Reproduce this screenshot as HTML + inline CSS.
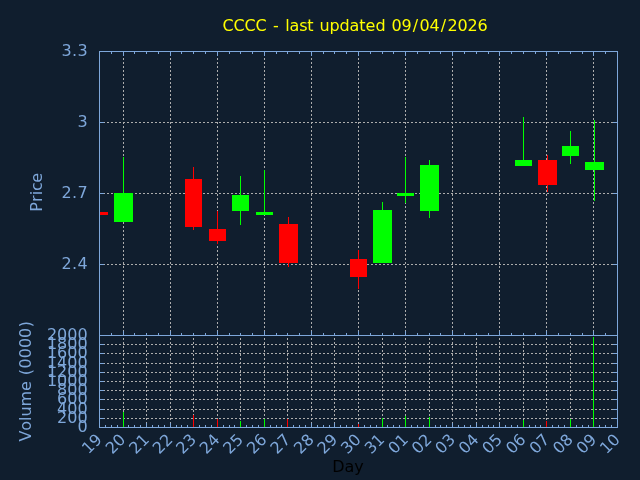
<!DOCTYPE html>
<html><head><meta charset="utf-8"><title>CCCC</title>
<style>html,body{margin:0;padding:0;background:#101e2e;overflow:hidden}svg{display:block;will-change:transform}text{font-family:"DejaVu Sans","Liberation Sans",sans-serif;font-size:16px}</style>
</head><body>
<svg width="640" height="480" viewBox="0 0 640 480">
<rect x="0" y="0" width="640" height="480" fill="#101e2e"/>
<g stroke="#adadad" stroke-width="1" stroke-dasharray="2 2" fill="none" shape-rendering="crispEdges">
<line x1="123.5" y1="52" x2="123.5" y2="335" stroke-dashoffset="2"/>
<line x1="170.5" y1="52" x2="170.5" y2="335" stroke-dashoffset="2"/>
<line x1="217.5" y1="52" x2="217.5" y2="335" stroke-dashoffset="2"/>
<line x1="264.5" y1="52" x2="264.5" y2="335" stroke-dashoffset="2"/>
<line x1="311.5" y1="52" x2="311.5" y2="335" stroke-dashoffset="2"/>
<line x1="358.5" y1="52" x2="358.5" y2="335" stroke-dashoffset="2"/>
<line x1="405.5" y1="52" x2="405.5" y2="335" stroke-dashoffset="2"/>
<line x1="452.5" y1="52" x2="452.5" y2="335" stroke-dashoffset="2"/>
<line x1="499.5" y1="52" x2="499.5" y2="335" stroke-dashoffset="2"/>
<line x1="546.5" y1="52" x2="546.5" y2="335" stroke-dashoffset="2"/>
<line x1="593.5" y1="52" x2="593.5" y2="335" stroke-dashoffset="2"/>
<line x1="99" y1="122.5" x2="617" y2="122.5"/>
<line x1="99" y1="193.5" x2="617" y2="193.5"/>
<line x1="99" y1="264.5" x2="617" y2="264.5"/>
<line x1="123.5" y1="336" x2="123.5" y2="427" stroke-dashoffset="2"/>
<line x1="146.5" y1="336" x2="146.5" y2="427" stroke-dashoffset="2"/>
<line x1="170.5" y1="336" x2="170.5" y2="427" stroke-dashoffset="2"/>
<line x1="193.5" y1="336" x2="193.5" y2="427" stroke-dashoffset="2"/>
<line x1="217.5" y1="336" x2="217.5" y2="427" stroke-dashoffset="2"/>
<line x1="240.5" y1="336" x2="240.5" y2="427" stroke-dashoffset="2"/>
<line x1="264.5" y1="336" x2="264.5" y2="427" stroke-dashoffset="2"/>
<line x1="287.5" y1="336" x2="287.5" y2="427" stroke-dashoffset="2"/>
<line x1="311.5" y1="336" x2="311.5" y2="427" stroke-dashoffset="2"/>
<line x1="334.5" y1="336" x2="334.5" y2="427" stroke-dashoffset="2"/>
<line x1="358.5" y1="336" x2="358.5" y2="427" stroke-dashoffset="2"/>
<line x1="382.5" y1="336" x2="382.5" y2="427" stroke-dashoffset="2"/>
<line x1="405.5" y1="336" x2="405.5" y2="427" stroke-dashoffset="2"/>
<line x1="429.5" y1="336" x2="429.5" y2="427" stroke-dashoffset="2"/>
<line x1="452.5" y1="336" x2="452.5" y2="427" stroke-dashoffset="2"/>
<line x1="476.5" y1="336" x2="476.5" y2="427" stroke-dashoffset="2"/>
<line x1="499.5" y1="336" x2="499.5" y2="427" stroke-dashoffset="2"/>
<line x1="523.5" y1="336" x2="523.5" y2="427" stroke-dashoffset="2"/>
<line x1="546.5" y1="336" x2="546.5" y2="427" stroke-dashoffset="2"/>
<line x1="570.5" y1="336" x2="570.5" y2="427" stroke-dashoffset="2"/>
<line x1="593.5" y1="336" x2="593.5" y2="427" stroke-dashoffset="2"/>
<line x1="99" y1="418.5" x2="617" y2="418.5"/>
<line x1="99" y1="409.5" x2="617" y2="409.5"/>
<line x1="99" y1="399.5" x2="617" y2="399.5"/>
<line x1="99" y1="390.5" x2="617" y2="390.5"/>
<line x1="99" y1="381.5" x2="617" y2="381.5"/>
<line x1="99" y1="372.5" x2="617" y2="372.5"/>
<line x1="99" y1="363.5" x2="617" y2="363.5"/>
<line x1="99" y1="353.5" x2="617" y2="353.5"/>
<line x1="99" y1="344.5" x2="617" y2="344.5"/>
</g>
<g fill="#7ea7da" shape-rendering="crispEdges">
<rect x="99" y="51" width="519" height="1"/>
<rect x="99" y="335" width="519" height="1"/>
<rect x="99" y="427" width="519" height="1"/>
<rect x="99" y="51" width="1" height="377"/>
<rect x="617" y="51" width="1" height="377"/>
<rect x="111" y="52" width="1" height="2"/>
<rect x="111" y="333" width="1" height="2"/>
<rect x="123" y="52" width="1" height="4"/>
<rect x="123" y="331" width="1" height="4"/>
<rect x="134" y="52" width="1" height="2"/>
<rect x="134" y="333" width="1" height="2"/>
<rect x="146" y="52" width="1" height="2"/>
<rect x="146" y="333" width="1" height="2"/>
<rect x="158" y="52" width="1" height="2"/>
<rect x="158" y="333" width="1" height="2"/>
<rect x="170" y="52" width="1" height="4"/>
<rect x="170" y="331" width="1" height="4"/>
<rect x="181" y="52" width="1" height="2"/>
<rect x="181" y="333" width="1" height="2"/>
<rect x="193" y="52" width="1" height="2"/>
<rect x="193" y="333" width="1" height="2"/>
<rect x="205" y="52" width="1" height="2"/>
<rect x="205" y="333" width="1" height="2"/>
<rect x="217" y="52" width="1" height="4"/>
<rect x="217" y="331" width="1" height="4"/>
<rect x="229" y="52" width="1" height="2"/>
<rect x="229" y="333" width="1" height="2"/>
<rect x="240" y="52" width="1" height="2"/>
<rect x="240" y="333" width="1" height="2"/>
<rect x="252" y="52" width="1" height="2"/>
<rect x="252" y="333" width="1" height="2"/>
<rect x="264" y="52" width="1" height="4"/>
<rect x="264" y="331" width="1" height="4"/>
<rect x="276" y="52" width="1" height="2"/>
<rect x="276" y="333" width="1" height="2"/>
<rect x="287" y="52" width="1" height="2"/>
<rect x="287" y="333" width="1" height="2"/>
<rect x="299" y="52" width="1" height="2"/>
<rect x="299" y="333" width="1" height="2"/>
<rect x="311" y="52" width="1" height="4"/>
<rect x="311" y="331" width="1" height="4"/>
<rect x="323" y="52" width="1" height="2"/>
<rect x="323" y="333" width="1" height="2"/>
<rect x="334" y="52" width="1" height="2"/>
<rect x="334" y="333" width="1" height="2"/>
<rect x="346" y="52" width="1" height="2"/>
<rect x="346" y="333" width="1" height="2"/>
<rect x="358" y="52" width="1" height="4"/>
<rect x="358" y="331" width="1" height="4"/>
<rect x="370" y="52" width="1" height="2"/>
<rect x="370" y="333" width="1" height="2"/>
<rect x="382" y="52" width="1" height="2"/>
<rect x="382" y="333" width="1" height="2"/>
<rect x="393" y="52" width="1" height="2"/>
<rect x="393" y="333" width="1" height="2"/>
<rect x="405" y="52" width="1" height="4"/>
<rect x="405" y="331" width="1" height="4"/>
<rect x="417" y="52" width="1" height="2"/>
<rect x="417" y="333" width="1" height="2"/>
<rect x="429" y="52" width="1" height="2"/>
<rect x="429" y="333" width="1" height="2"/>
<rect x="440" y="52" width="1" height="2"/>
<rect x="440" y="333" width="1" height="2"/>
<rect x="452" y="52" width="1" height="4"/>
<rect x="452" y="331" width="1" height="4"/>
<rect x="464" y="52" width="1" height="2"/>
<rect x="464" y="333" width="1" height="2"/>
<rect x="476" y="52" width="1" height="2"/>
<rect x="476" y="333" width="1" height="2"/>
<rect x="488" y="52" width="1" height="2"/>
<rect x="488" y="333" width="1" height="2"/>
<rect x="499" y="52" width="1" height="4"/>
<rect x="499" y="331" width="1" height="4"/>
<rect x="511" y="52" width="1" height="2"/>
<rect x="511" y="333" width="1" height="2"/>
<rect x="523" y="52" width="1" height="2"/>
<rect x="523" y="333" width="1" height="2"/>
<rect x="535" y="52" width="1" height="2"/>
<rect x="535" y="333" width="1" height="2"/>
<rect x="546" y="52" width="1" height="4"/>
<rect x="546" y="331" width="1" height="4"/>
<rect x="558" y="52" width="1" height="2"/>
<rect x="558" y="333" width="1" height="2"/>
<rect x="570" y="52" width="1" height="2"/>
<rect x="570" y="333" width="1" height="2"/>
<rect x="582" y="52" width="1" height="2"/>
<rect x="582" y="333" width="1" height="2"/>
<rect x="593" y="52" width="1" height="4"/>
<rect x="593" y="331" width="1" height="4"/>
<rect x="605" y="52" width="1" height="2"/>
<rect x="605" y="333" width="1" height="2"/>
<rect x="105" y="425" width="1" height="2"/>
<rect x="111" y="425" width="1" height="2"/>
<rect x="117" y="425" width="1" height="2"/>
<rect x="123" y="423" width="1" height="4"/>
<rect x="128" y="425" width="1" height="2"/>
<rect x="134" y="425" width="1" height="2"/>
<rect x="140" y="425" width="1" height="2"/>
<rect x="146" y="423" width="1" height="4"/>
<rect x="152" y="425" width="1" height="2"/>
<rect x="158" y="425" width="1" height="2"/>
<rect x="164" y="425" width="1" height="2"/>
<rect x="170" y="423" width="1" height="4"/>
<rect x="176" y="425" width="1" height="2"/>
<rect x="181" y="425" width="1" height="2"/>
<rect x="187" y="425" width="1" height="2"/>
<rect x="193" y="423" width="1" height="4"/>
<rect x="199" y="425" width="1" height="2"/>
<rect x="205" y="425" width="1" height="2"/>
<rect x="211" y="425" width="1" height="2"/>
<rect x="217" y="423" width="1" height="4"/>
<rect x="223" y="425" width="1" height="2"/>
<rect x="229" y="425" width="1" height="2"/>
<rect x="234" y="425" width="1" height="2"/>
<rect x="240" y="423" width="1" height="4"/>
<rect x="246" y="425" width="1" height="2"/>
<rect x="252" y="425" width="1" height="2"/>
<rect x="258" y="425" width="1" height="2"/>
<rect x="264" y="423" width="1" height="4"/>
<rect x="270" y="425" width="1" height="2"/>
<rect x="276" y="425" width="1" height="2"/>
<rect x="281" y="425" width="1" height="2"/>
<rect x="287" y="423" width="1" height="4"/>
<rect x="293" y="425" width="1" height="2"/>
<rect x="299" y="425" width="1" height="2"/>
<rect x="305" y="425" width="1" height="2"/>
<rect x="311" y="423" width="1" height="4"/>
<rect x="317" y="425" width="1" height="2"/>
<rect x="323" y="425" width="1" height="2"/>
<rect x="329" y="425" width="1" height="2"/>
<rect x="334" y="423" width="1" height="4"/>
<rect x="340" y="425" width="1" height="2"/>
<rect x="346" y="425" width="1" height="2"/>
<rect x="352" y="425" width="1" height="2"/>
<rect x="358" y="423" width="1" height="4"/>
<rect x="364" y="425" width="1" height="2"/>
<rect x="370" y="425" width="1" height="2"/>
<rect x="376" y="425" width="1" height="2"/>
<rect x="382" y="423" width="1" height="4"/>
<rect x="387" y="425" width="1" height="2"/>
<rect x="393" y="425" width="1" height="2"/>
<rect x="399" y="425" width="1" height="2"/>
<rect x="405" y="423" width="1" height="4"/>
<rect x="411" y="425" width="1" height="2"/>
<rect x="417" y="425" width="1" height="2"/>
<rect x="423" y="425" width="1" height="2"/>
<rect x="429" y="423" width="1" height="4"/>
<rect x="435" y="425" width="1" height="2"/>
<rect x="440" y="425" width="1" height="2"/>
<rect x="446" y="425" width="1" height="2"/>
<rect x="452" y="423" width="1" height="4"/>
<rect x="458" y="425" width="1" height="2"/>
<rect x="464" y="425" width="1" height="2"/>
<rect x="470" y="425" width="1" height="2"/>
<rect x="476" y="423" width="1" height="4"/>
<rect x="482" y="425" width="1" height="2"/>
<rect x="488" y="425" width="1" height="2"/>
<rect x="493" y="425" width="1" height="2"/>
<rect x="499" y="423" width="1" height="4"/>
<rect x="505" y="425" width="1" height="2"/>
<rect x="511" y="425" width="1" height="2"/>
<rect x="517" y="425" width="1" height="2"/>
<rect x="523" y="423" width="1" height="4"/>
<rect x="529" y="425" width="1" height="2"/>
<rect x="535" y="425" width="1" height="2"/>
<rect x="540" y="425" width="1" height="2"/>
<rect x="546" y="423" width="1" height="4"/>
<rect x="552" y="425" width="1" height="2"/>
<rect x="558" y="425" width="1" height="2"/>
<rect x="564" y="425" width="1" height="2"/>
<rect x="570" y="423" width="1" height="4"/>
<rect x="576" y="425" width="1" height="2"/>
<rect x="582" y="425" width="1" height="2"/>
<rect x="588" y="425" width="1" height="2"/>
<rect x="593" y="423" width="1" height="4"/>
<rect x="599" y="425" width="1" height="2"/>
<rect x="605" y="425" width="1" height="2"/>
<rect x="611" y="425" width="1" height="2"/>
<rect x="100" y="122" width="4" height="1"/>
<rect x="613" y="122" width="4" height="1"/>
<rect x="100" y="193" width="4" height="1"/>
<rect x="613" y="193" width="4" height="1"/>
<rect x="100" y="264" width="4" height="1"/>
<rect x="613" y="264" width="4" height="1"/>
<rect x="100" y="418" width="4" height="1"/>
<rect x="613" y="418" width="4" height="1"/>
<rect x="100" y="409" width="4" height="1"/>
<rect x="613" y="409" width="4" height="1"/>
<rect x="100" y="399" width="4" height="1"/>
<rect x="613" y="399" width="4" height="1"/>
<rect x="100" y="390" width="4" height="1"/>
<rect x="613" y="390" width="4" height="1"/>
<rect x="100" y="381" width="4" height="1"/>
<rect x="613" y="381" width="4" height="1"/>
<rect x="100" y="372" width="4" height="1"/>
<rect x="613" y="372" width="4" height="1"/>
<rect x="100" y="363" width="4" height="1"/>
<rect x="613" y="363" width="4" height="1"/>
<rect x="100" y="353" width="4" height="1"/>
<rect x="613" y="353" width="4" height="1"/>
<rect x="100" y="344" width="4" height="1"/>
<rect x="613" y="344" width="4" height="1"/>
</g>
<g shape-rendering="crispEdges">
<rect x="100" y="212" width="8" height="3" fill="#ff0000"/>
<rect x="123" y="157" width="1" height="65" fill="#00ff00"/>
<rect x="114" y="193" width="19" height="29" fill="#00ff00"/>
<rect x="193" y="167" width="1" height="63" fill="#ff0000"/>
<rect x="185" y="179" width="17" height="48" fill="#ff0000"/>
<rect x="217" y="211" width="1" height="33" fill="#ff0000"/>
<rect x="209" y="229" width="17" height="12" fill="#ff0000"/>
<rect x="240" y="176" width="1" height="49" fill="#00ff00"/>
<rect x="232" y="195" width="17" height="16" fill="#00ff00"/>
<rect x="264" y="170" width="1" height="45" fill="#00ff00"/>
<rect x="256" y="212" width="17" height="3" fill="#00ff00"/>
<rect x="288" y="217" width="1" height="50" fill="#ff0000"/>
<rect x="279" y="224" width="19" height="39" fill="#ff0000"/>
<rect x="358" y="250" width="1" height="39" fill="#ff0000"/>
<rect x="350" y="259" width="17" height="18" fill="#ff0000"/>
<rect x="382" y="202" width="1" height="61" fill="#00ff00"/>
<rect x="373" y="210" width="19" height="53" fill="#00ff00"/>
<rect x="405" y="157" width="1" height="46" fill="#00ff00"/>
<rect x="397" y="193" width="17" height="3" fill="#00ff00"/>
<rect x="429" y="160" width="1" height="58" fill="#00ff00"/>
<rect x="420" y="165" width="19" height="46" fill="#00ff00"/>
<rect x="523" y="117" width="1" height="49" fill="#00ff00"/>
<rect x="515" y="160" width="17" height="6" fill="#00ff00"/>
<rect x="547" y="155" width="1" height="37" fill="#ff0000"/>
<rect x="538" y="160" width="19" height="25" fill="#ff0000"/>
<rect x="570" y="131" width="1" height="33" fill="#00ff00"/>
<rect x="562" y="146" width="17" height="10" fill="#00ff00"/>
<rect x="594" y="120" width="1" height="81" fill="#00ff00"/>
<rect x="585" y="162" width="19" height="8" fill="#00ff00"/>
<rect x="123" y="412" width="1" height="15" fill="#00ff00"/>
<rect x="193" y="415" width="1" height="12" fill="#ff0000"/>
<rect x="217" y="419" width="1" height="8" fill="#ff0000"/>
<rect x="240" y="421" width="1" height="6" fill="#00ff00"/>
<rect x="264" y="419" width="1" height="8" fill="#00ff00"/>
<rect x="287" y="419" width="1" height="8" fill="#ff0000"/>
<rect x="358" y="424" width="1" height="3" fill="#ff0000"/>
<rect x="382" y="418" width="1" height="9" fill="#00ff00"/>
<rect x="405" y="416" width="1" height="11" fill="#00ff00"/>
<rect x="429" y="417" width="1" height="10" fill="#00ff00"/>
<rect x="523" y="420" width="1" height="7" fill="#00ff00"/>
<rect x="546" y="421" width="1" height="6" fill="#ff0000"/>
<rect x="570" y="419" width="1" height="8" fill="#00ff00"/>
<rect x="593" y="337" width="1" height="90" fill="#00ff00"/>
</g>
<g fill="#7ea7da">
<text x="61.42 71.97 77.42" y="56.00">3.3</text>
<text x="77.42" y="127.00">3</text>
<text x="61.42 71.97 77.42" y="198.00">2.7</text>
<text x="61.42 71.97 77.42" y="269.00">2.4</text>
<text x="77.42" y="432.00">0</text>
<text x="57.07 67.25 77.42" y="423.00">200</text>
<text x="57.07 67.25 77.42" y="414.00">400</text>
<text x="57.07 67.25 77.42" y="404.00">600</text>
<text x="57.07 67.25 77.42" y="395.00">800</text>
<text x="46.89 57.07 67.25 77.42" y="386.00">1000</text>
<text x="46.89 57.07 67.25 77.42" y="377.00">1200</text>
<text x="46.89 57.07 67.25 77.42" y="368.00">1400</text>
<text x="46.89 57.07 67.25 77.42" y="358.00">1600</text>
<text x="46.89 57.07 67.25 77.42" y="349.00">1800</text>
<text x="46.89 57.07 67.25 77.42" y="340.00">2000</text>
<text x="-20.35 -10.18" y="5.50" transform="translate(99.10,436.60) rotate(-45)">19</text>
<text x="-20.35 -10.18" y="5.50" transform="translate(122.65,436.60) rotate(-45)">20</text>
<text x="-20.35 -10.18" y="5.50" transform="translate(146.19,436.60) rotate(-45)">21</text>
<text x="-20.35 -10.18" y="5.50" transform="translate(169.74,436.60) rotate(-45)">22</text>
<text x="-20.35 -10.18" y="5.50" transform="translate(193.28,436.60) rotate(-45)">23</text>
<text x="-20.35 -10.18" y="5.50" transform="translate(216.83,436.60) rotate(-45)">24</text>
<text x="-20.35 -10.18" y="5.50" transform="translate(240.37,436.60) rotate(-45)">25</text>
<text x="-20.35 -10.18" y="5.50" transform="translate(263.92,436.60) rotate(-45)">26</text>
<text x="-20.35 -10.18" y="5.50" transform="translate(287.46,436.60) rotate(-45)">27</text>
<text x="-20.35 -10.18" y="5.50" transform="translate(311.01,436.60) rotate(-45)">28</text>
<text x="-20.35 -10.18" y="5.50" transform="translate(334.55,436.60) rotate(-45)">29</text>
<text x="-20.35 -10.18" y="5.50" transform="translate(358.10,436.60) rotate(-45)">30</text>
<text x="-20.35 -10.18" y="5.50" transform="translate(381.65,436.60) rotate(-45)">31</text>
<text x="-20.35 -10.18" y="5.50" transform="translate(405.19,436.60) rotate(-45)">01</text>
<text x="-20.35 -10.18" y="5.50" transform="translate(428.74,436.60) rotate(-45)">02</text>
<text x="-20.35 -10.18" y="5.50" transform="translate(452.28,436.60) rotate(-45)">03</text>
<text x="-20.35 -10.18" y="5.50" transform="translate(475.83,436.60) rotate(-45)">04</text>
<text x="-20.35 -10.18" y="5.50" transform="translate(499.37,436.60) rotate(-45)">05</text>
<text x="-20.35 -10.18" y="5.50" transform="translate(522.92,436.60) rotate(-45)">06</text>
<text x="-20.35 -10.18" y="5.50" transform="translate(546.46,436.60) rotate(-45)">07</text>
<text x="-20.35 -10.18" y="5.50" transform="translate(570.01,436.60) rotate(-45)">08</text>
<text x="-20.35 -10.18" y="5.50" transform="translate(593.55,436.60) rotate(-45)">09</text>
<text x="-20.35 -10.18" y="5.50" transform="translate(617.10,436.60) rotate(-45)">10</text>
<text x="-19.37 -9.59 -2.92 1.27 9.68" y="0.00" transform="translate(42,192.3) rotate(-90)">Price</text>
<text x="-60.57 -49.66 -39.94 -35.53 -25.41 -9.99 -0.02 5.85 12.60 22.77 32.95 43.13 53.81" y="0.00" transform="translate(31,381) rotate(-90)">Volume (0000)</text>
</g>
<text x="222.41 233.41 244.41 255.41 266.96 273.11 279.96 285.28 289.60 299.33 307.36 313.96 319.43 329.42 339.42 349.60 359.36 365.58 375.42 385.96 391.41 401.41 412.80 419.41 429.41 440.80 447.41 457.41 467.41 477.41" y="31.00" fill="#ffff00">CCCC - last updated 09/04/2026</text>
<text x="332.34 344.60 354.27" y="472.20" fill="#000000">Day</text>
</svg></body></html>
